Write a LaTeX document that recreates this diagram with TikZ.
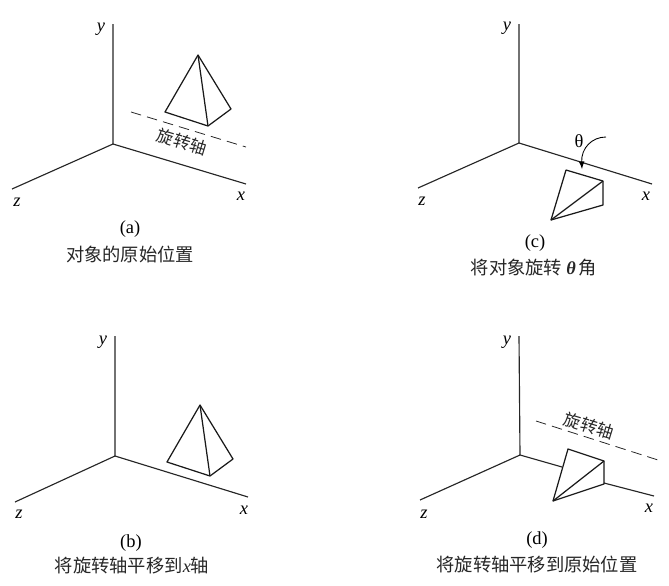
\documentclass[tikz,border=0pt]{standalone}
\usepackage{fontspec}
\setmainfont{Liberation Serif}
\newfontfamily\cjk{Noto Sans CJK SC}
\tikzset{
  axisline/.style={line width=0.65pt, black!85},
  solidline/.style={line width=0.7pt, black!90, line join=round},
  dashline/.style={line width=0.45pt, black!85, dash pattern=on 6pt off 3.5pt},
  axislabel/.style={font=\fontsize{10.5}{12}\selectfont\itshape, inner sep=0pt},
  sublabel/.style={font=\fontsize{10.5}{12}\selectfont, inner sep=0pt},
  caption/.style={font=\fontsize{10.4}{12}\selectfont\cjk, inner sep=0pt, text=black!85},
  axislabelrot/.style={font=\fontsize{9.6}{12}\selectfont\cjk, inner sep=0pt, rotate=-17, text=black!85}
}
\begin{document}
\begin{tikzpicture}[x=0.02cm, y=-0.02cm]
  \useasboundingbox (0,0) rectangle (669,585);

  % Figura (a)
  \draw [axisline] (113,24) -- (113,144) -- (246,184);
  \draw [axisline] (113,144) -- (12,189);
  \node [axislabel] (ya) at (101,29) {y};
  \node [axislabel] (za) at (17,202) {z};
  \node [axislabel] (xa) at (241,196) {x};
  \draw [solidline] (198,55) -- (165,112) -- (208,126) -- (231,109) -- cycle;
  \draw [solidline] (198,55) -- (208,126);
  \draw [dashline] (131,112) -- (246,147);
  \node [axislabelrot] (axisa) at (182,142) {旋转轴};
  \node [sublabel] (laba) at (130,229) {(a)};
  \node [caption] (capa) at (130,254) {对象的原始位置};

  % Figura (b)
  \draw [axisline] (115,336) -- (115,456) -- (248,497);
  \draw [axisline] (115,456) -- (15,502);
  \node [axislabel] (yb) at (103,342) {y};
  \node [axislabel] (zb) at (19,514) {z};
  \node [axislabel] (xb) at (244,510) {x};
  \draw [solidline] (200,405) -- (167,462) -- (210,476) -- (233,459) -- cycle;
  \draw [solidline] (200,405) -- (210,476);
  \node [sublabel] (labb) at (131,543) {(b)};
  \node [caption] (capb) at (132,566) {将旋转轴平移到{\rmfamily\itshape x}轴};

  % Figura (c)
  \draw [axisline] (519,24) -- (519,143) -- (652,184);
  \draw [axisline] (519,143) -- (418,188);
  \node [axislabel] (yc) at (507,28) {y};
  \node [axislabel] (zc) at (422,201) {z};
  \node [axislabel] (xc) at (646,196) {x};
  \draw [solidline] (566,170) -- (603,181) -- (603,205) -- (551,220) -- cycle;
  \draw [solidline] (551,220) -- (603,181);
  \node [font=\fontsize{10.5}{12}\selectfont, inner sep=0pt] (theta) at (579,141) {θ};
  \coordinate (thetastart) at (606,137);
  \coordinate (thetaend) at (582,169);
  \draw [-latex, line width=0.5pt] (thetastart) .. controls (592,137) and (581,148) .. (thetaend);
  \node [sublabel] (labc) at (535,243) {(c)};
  \node [caption] (capc) at (534,268) {将对象旋转 {\rmfamily\bfseries\itshape θ}\,角};

  % Figura (d)
  \draw [axisline] (519,336) -- (520,455) -- (562,467);
  \draw [axisline] (604,483) -- (654,496);
  \draw [axisline] (520,455) -- (420,500);
  \node [axislabel] (yd) at (507,342) {y};
  \node [axislabel] (zd) at (424,514) {z};
  \node [axislabel] (xd) at (649,508) {x};
  \draw [solidline] (568,449) -- (604,461) -- (604,484) -- (553,501) -- cycle;
  \draw [solidline] (553,501) -- (604,461);
  \draw [dashline] (536,421) -- (658,460);
  \node [axislabelrot] (axisd) at (589,426) {旋转轴};
  \node [sublabel] (labd) at (537,540) {(d)};
  \node [caption] (capd) at (537,565) {将旋转轴平移到原始位置};
\end{tikzpicture}
\end{document}
